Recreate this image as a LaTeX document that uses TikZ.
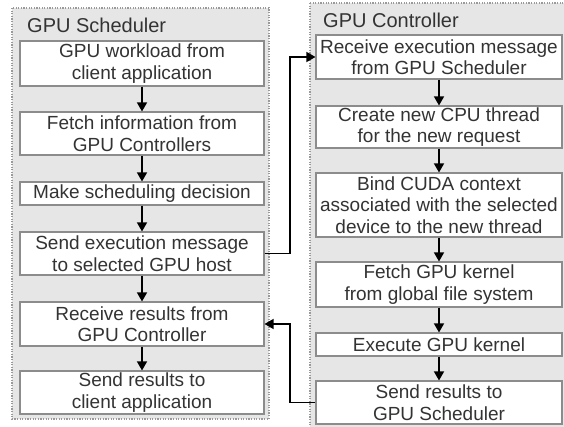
\documentclass[tikz,border=0pt]{standalone}
\usepackage{fontspec}
\setmainfont{Liberation Sans}
\usetikzlibrary{arrows.meta}
\definecolor{panelfill}{HTML}{E6E6E6}
\definecolor{panelline}{HTML}{9A9A9A}
\definecolor{boxline}{HTML}{8C8C8C}
\definecolor{txt}{HTML}{333333}
\tikzset{
  panel/.style={fill=panelfill, draw=panelline, line width=1.1pt, dash pattern=on 1.3pt off 1.3pt},
  paneltitle/.style={anchor=base west, inner sep=0pt, text=txt, font=\fontsize{20}{22}\selectfont},
  stepbox/.style={draw=boxline, fill=white, line width=1.1pt, inner sep=0pt, align=center,
     text=txt, font=\fontsize{19}{21.5}\selectfont},
  lbox/.style={stepbox, minimum width=244pt},
  rbox/.style={stepbox, minimum width=246pt},
  arr/.style={draw=black, line width=1.4pt, -{Triangle[width=10pt,length=9pt]}}
}
\begin{document}
\begin{tikzpicture}[x=1pt,y=-1pt]
\useasboundingbox (0,0) rectangle (564,427);
% panels
\path[panel] (12,8) rectangle (269,419);
\path[panel] (310,3) rectangle (568,432);
\node[paneltitle] (tS) at (27,33) {GPU Scheduler};
\node[paneltitle] (tC) at (323,28) {GPU Controller};
% left column
\node[lbox, minimum height=45pt] (L1) at (142,63.5) {GPU workload from\\client application};
\node[lbox, minimum height=43pt] (L2) at (142,133.5) {Fetch information from\\GPU Controllers};
\node[lbox, minimum height=23pt] (L3) at (142,193.5) {Make scheduling decision};
\node[lbox, minimum height=43pt] (L4) at (142,253.5) {Send execution message\\to selected GPU host};
\node[lbox, minimum height=44pt] (L5) at (142,324) {Receive results from\\GPU Controller};
\node[lbox, minimum height=43pt] (L6) at (142,392.5) {Send results to\\client application};
% right column
\node[rbox, minimum height=44pt] (R1) at (439,57) {Receive execution message\\from GPU Scheduler};
\node[rbox, minimum height=42pt] (R2) at (439,127) {Create new CPU thread\\for the new request};
\node[rbox, minimum height=64pt] (R3) at (439,205) {Bind CUDA context\\associated with the selected\\device to the new thread};
\node[rbox, minimum height=45pt] (R4) at (439,284.5) {Fetch GPU kernel\\from global file system};
\node[rbox, minimum height=23pt] (R5) at (439,344.5) {Execute GPU kernel};
\node[rbox, minimum height=43pt] (R6) at (439,402.5) {Send results to\\GPU Scheduler};
% vertical flow
\draw[arr] (L1) -- (L2);
\draw[arr] (L2) -- (L3);
\draw[arr] (L3) -- (L4);
\draw[arr] (L4) -- (L5);
\draw[arr] (L5) -- (L6);
\draw[arr] (R1) -- (R2);
\draw[arr] (R2) -- (R3);
\draw[arr] (R3) -- (R4);
\draw[arr] (R4) -- (R5);
\draw[arr] (R5) -- (R6);
% cross connectors
\coordinate (bus) at (290,0);
\draw[arr] (L4.east) -- (L4.east -| bus) |- (R1.west);
\draw[arr] (R6.west) -- (R6.west -| bus) |- (L5.east);
\end{tikzpicture}
\end{document}
